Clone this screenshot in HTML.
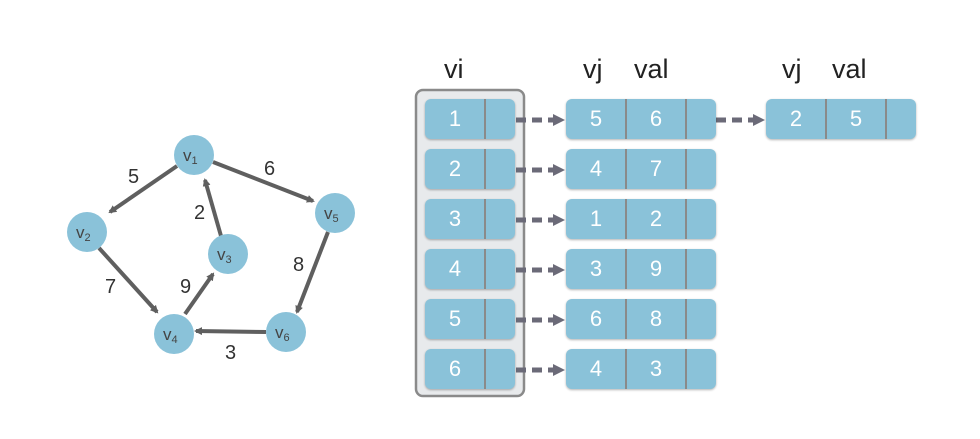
<!DOCTYPE html>
<html><head><style>
body{margin:0;width:980px;height:439px;background:#fff;position:relative;overflow:hidden;font-family:"Liberation Sans",sans-serif}
.c{position:absolute;background:#8ac2d9;border-radius:6px;box-shadow:0 1px 2px rgba(0,0,0,.3);height:40px;color:#fff;font-size:22px}
.c span{position:absolute;top:0;line-height:40px;text-align:center}
.d{position:absolute;top:0;width:2px;height:40px;background:#8a8a8a}
.h{position:absolute;font-size:27px;color:#222}
</style></head><body>
<svg width="980" height="439" style="position:absolute;left:0;top:0">
<defs><marker id="a" markerWidth="8" markerHeight="8" refX="6" refY="4" orient="auto" markerUnits="userSpaceOnUse"><path d="M0,0 L8,4 L0,8 Z" fill="#5f5f5f"/></marker>
<marker id="b" markerWidth="12" markerHeight="12" refX="11" refY="6" orient="auto" markerUnits="userSpaceOnUse"><path d="M0,0 L12,6 L0,12 Z" fill="#6b6a78"/></marker></defs>
<g stroke="#5f5f5f" stroke-width="4" marker-end="url(#a)" fill="none">
<line x1="177" y1="166" x2="110" y2="212"/>
<line x1="213" y1="162" x2="313" y2="201"/>
<line x1="221" y1="236" x2="205" y2="180"/>
<line x1="99" y1="248" x2="157" y2="312"/>
<line x1="185" y1="314" x2="213" y2="274"/>
<line x1="328" y1="232" x2="297" y2="312"/>
<line x1="266" y1="332" x2="196" y2="331"/>
</g>
<g fill="#8ac2d9">
<circle cx="194" cy="155" r="20"/><circle cx="87" cy="232" r="20"/><circle cx="228" cy="254" r="20"/>
<circle cx="174" cy="334" r="20"/><circle cx="335" cy="213" r="20"/><circle cx="286" cy="332" r="20"/>
</g>
<g font-family="Liberation Sans" fill="#444" font-size="17">
<text x="183" y="161">v<tspan font-size="11" dy="3">1</tspan></text>
<text x="76" y="238">v<tspan font-size="11" dy="3">2</tspan></text>
<text x="217" y="260">v<tspan font-size="11" dy="3">3</tspan></text>
<text x="163" y="340">v<tspan font-size="11" dy="3">4</tspan></text>
<text x="324" y="219">v<tspan font-size="11" dy="3">5</tspan></text>
<text x="275" y="338">v<tspan font-size="11" dy="3">6</tspan></text>
</g>
<g font-family="Liberation Sans" fill="#333" font-size="20">
<text x="128" y="183">5</text><text x="264" y="175">6</text><text x="194" y="219">2</text>
<text x="293" y="271">8</text><text x="105" y="293">7</text><text x="180" y="293">9</text><text x="225" y="359">3</text>
</g>
<rect x="416" y="90" width="108" height="306" rx="7" fill="#e8eaec" stroke="#8a8a8a" stroke-width="2.5"/>
<g stroke="#6b6a78" stroke-width="5" stroke-dasharray="10,6" marker-end="url(#b)">
<line x1="500" y1="120" x2="564" y2="120"/><line x1="500" y1="170" x2="564" y2="170"/>
<line x1="500" y1="220" x2="564" y2="220"/><line x1="500" y1="270" x2="564" y2="270"/>
<line x1="500" y1="320" x2="564" y2="320"/><line x1="500" y1="370" x2="564" y2="370"/>
<line x1="700" y1="120" x2="764" y2="120"/>
</g>
</svg>
<div class="h" style="left:444px;top:54px">vi</div>
<div class="h" style="left:583px;top:54px">vj</div>
<div class="h" style="left:634px;top:54px">val</div>
<div class="h" style="left:782px;top:54px">vj</div>
<div class="h" style="left:832px;top:54px">val</div>

<div class="c" style="left:425px;top:99px;width:90px"><span style="left:0;width:60px">1</span><div class="d" style="left:59px"></div></div>
<div class="c" style="left:425px;top:149px;width:90px"><span style="left:0;width:60px">2</span><div class="d" style="left:59px"></div></div>
<div class="c" style="left:425px;top:199px;width:90px"><span style="left:0;width:60px">3</span><div class="d" style="left:59px"></div></div>
<div class="c" style="left:425px;top:249px;width:90px"><span style="left:0;width:60px">4</span><div class="d" style="left:59px"></div></div>
<div class="c" style="left:425px;top:299px;width:90px"><span style="left:0;width:60px">5</span><div class="d" style="left:59px"></div></div>
<div class="c" style="left:425px;top:349px;width:90px"><span style="left:0;width:60px">6</span><div class="d" style="left:59px"></div></div>

<div class="c" style="left:566px;top:99px;width:150px"><span style="left:0;width:60px">5</span><div class="d" style="left:59px"></div><span style="left:60px;width:60px">6</span><div class="d" style="left:119px"></div></div>
<div class="c" style="left:566px;top:149px;width:150px"><span style="left:0;width:60px">4</span><div class="d" style="left:59px"></div><span style="left:60px;width:60px">7</span><div class="d" style="left:119px"></div></div>
<div class="c" style="left:566px;top:199px;width:150px"><span style="left:0;width:60px">1</span><div class="d" style="left:59px"></div><span style="left:60px;width:60px">2</span><div class="d" style="left:119px"></div></div>
<div class="c" style="left:566px;top:249px;width:150px"><span style="left:0;width:60px">3</span><div class="d" style="left:59px"></div><span style="left:60px;width:60px">9</span><div class="d" style="left:119px"></div></div>
<div class="c" style="left:566px;top:299px;width:150px"><span style="left:0;width:60px">6</span><div class="d" style="left:59px"></div><span style="left:60px;width:60px">8</span><div class="d" style="left:119px"></div></div>
<div class="c" style="left:566px;top:349px;width:150px"><span style="left:0;width:60px">4</span><div class="d" style="left:59px"></div><span style="left:60px;width:60px">3</span><div class="d" style="left:119px"></div></div>

<div class="c" style="left:766px;top:99px;width:150px"><span style="left:0;width:60px">2</span><div class="d" style="left:59px"></div><span style="left:60px;width:60px">5</span><div class="d" style="left:119px"></div></div>
</body></html>
